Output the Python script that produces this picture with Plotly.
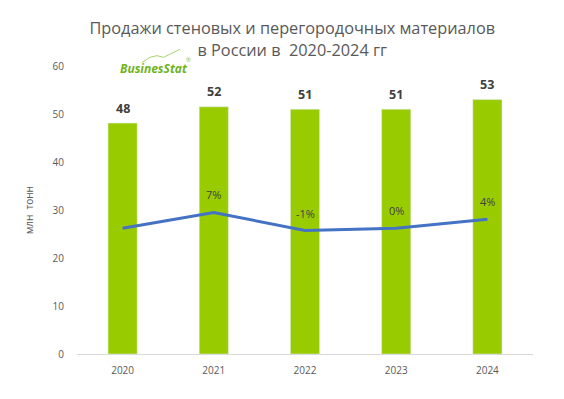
import plotly.graph_objects as go

years = [2020, 2021, 2022, 2023, 2024]
year_labels = ["2020", "2021", "2022", "2023", "2024"]
sales = [48.1, 51.5, 51.0, 51.0, 53.0]
sales_labels = ["48", "52", "51", "51", "53"]
growth = [0.0, 7.0, -1.0, 0.0, 4.0]
growth_labels = ["", "7%", "-1%", "0%", "4%"]

font_family = "Open Sans, Noto Sans, sans-serif"
grey = "#595959"

fig = go.Figure()
fig.add_trace(go.Bar(
    x=years, y=sales, marker_color="#99cc00", width=0.32,
    showlegend=False,
))
fig.add_trace(go.Scatter(
    x=years, y=growth, yaxis="y2", mode="lines",
    line=dict(color="#4472c4", width=3), showlegend=False,
))

annotations = []
for x, v, t in zip(years, sales, sales_labels):
    annotations.append(dict(x=x, y=v, xref="x", yref="y", text=f"<b>{t}</b>",
                            showarrow=False, yshift=15,
                            font=dict(size=12.5, color="#404040", family=font_family)))
for x, v, t in zip(years, growth, growth_labels):
    if t:
        annotations.append(dict(x=x, y=v, xref="x", yref="y2", text=t,
                                showarrow=False, yshift=17.5,
                                font=dict(size=11, color="#404040", family=font_family)))
annotations.append(dict(x=0.168, y=0.99, xref="paper", yref="paper",
                        text="<b><i>BusinesStat</i></b>", showarrow=False,
                        xanchor="center", yanchor="middle",
                        font=dict(size=12, color="#6fb31e", family=font_family)))
annotations.append(dict(x=0.244, y=1.022, xref="paper", yref="paper",
                        text="®", showarrow=False,
                        xanchor="center", yanchor="middle",
                        font=dict(size=6, color="#8cc04a", family=font_family)))
annotations.append(dict(x=-0.105, y=0.5, xref="paper", yref="paper",
                        text="млн  тонн", showarrow=False, textangle=-90,
                        xanchor="center", yanchor="middle",
                        font=dict(size=10, color=grey, family=font_family)))

fig.update_layout(
    width=564, height=399,
    margin=dict(l=69, r=39, t=58, b=53),
    paper_bgcolor="white", plot_bgcolor="white",
    title=dict(text="Продажи стеновых и перегородочных материалов<br>в России в  2020-2024 гг",
               x=0.504, xanchor="center", y=0.934, yanchor="top",
               font=dict(size=16.3, color=grey, family=font_family)),
    font=dict(family=font_family, color=grey),
    xaxis=dict(type="linear", range=[2019.5, 2024.5], tickvals=years, ticktext=year_labels,
               showgrid=False, showline=True, linecolor="#d9d9d9", zeroline=False,
               linewidth=1, ticks="", ticklabelstandoff=7,
               tickfont=dict(size=10, color=grey)),
    yaxis=dict(range=[0, 60], dtick=10, showgrid=False, zeroline=False,
               showline=False, ticks="", ticklabelstandoff=12,
               tickfont=dict(size=10, color=grey)),
    yaxis2=dict(range=[-55.7, 71.9], overlaying="y", side="right", visible=False),
    annotations=annotations,
)
fig.add_shape(type="path", xref="paper", yref="paper", layer="above",
              path="M 0.1425 1.012 L 0.16 1.03 L 0.175 1.036 L 0.19 1.03 L 0.205 1.042 L 0.226 1.058",
              line=dict(color="#a8d46a", width=1))

fig.write_html("out.html")
